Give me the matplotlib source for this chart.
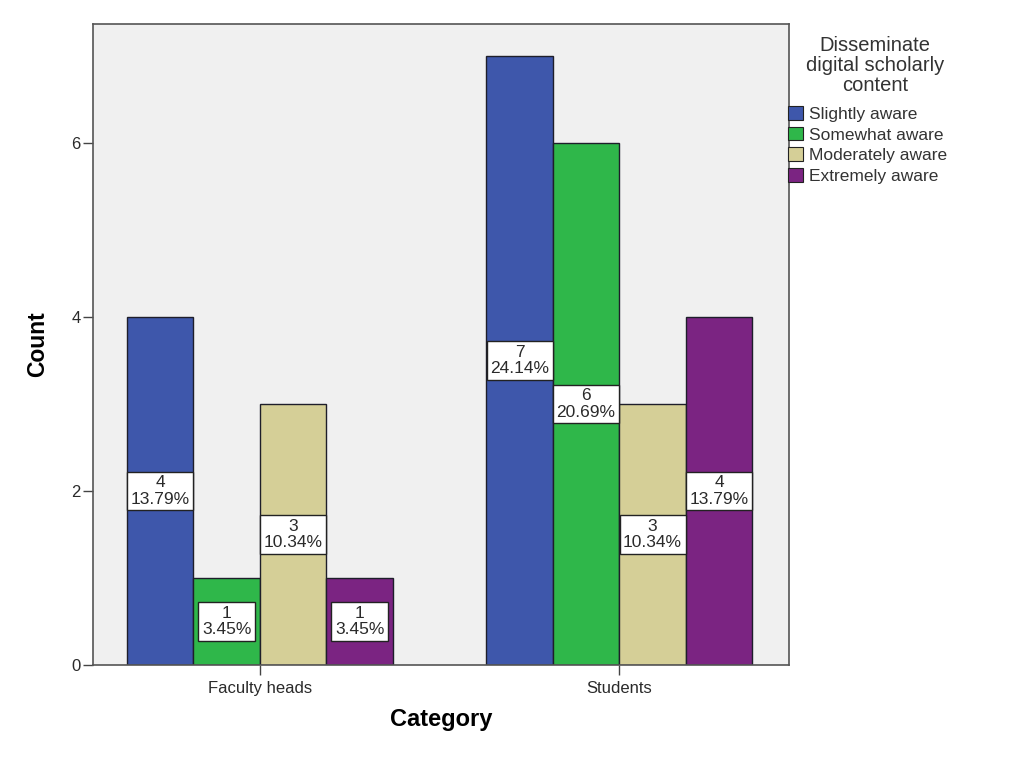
import matplotlib
matplotlib.use("Agg")
import matplotlib.pyplot as plt
from matplotlib.patches import Patch
import numpy as np

plt.rcParams['font.family'] = ['Liberation Sans', 'DejaVu Sans']

categories = ["Faculty heads", "Students"]
levels = ["Slightly aware", "Somewhat aware", "Moderately aware", "Extremely aware"]
counts = {
    "Slightly aware": [4, 7],
    "Somewhat aware": [1, 6],
    "Moderately aware": [3, 3],
    "Extremely aware": [1, 4],
}
colors = ["#3E57AB", "#2FB74A", "#D5CF97", "#7B2482"]
legend_title = "Disseminate\ndigital scholarly\ncontent"

total = sum(sum(v) for v in counts.values())

W, H = 1033, 765
fig = plt.figure(figsize=(W / 100, H / 100), dpi=100)
ax = fig.add_axes([93 / W, 1 - 665 / H, (789 - 93) / W, (665 - 24) / H])
ax.set_facecolor("#F0F0F0")

x = np.arange(len(categories))
width = 0.185
offsets = (np.arange(len(levels)) - (len(levels) - 1) / 2) * width

for i, lev in enumerate(levels):
    vals = counts[lev]
    ax.bar(x + offsets[i], vals, width=width, color=colors[i],
           edgecolor="#1E1E2A", linewidth=1.0, zorder=2)
    for xi, v in zip(x + offsets[i], vals):
        ax.text(xi, v / 2, f"{v}\n{v / total * 100:.2f}%", ha="center", va="center",
                fontsize=12.5, color="#2A2A2A", linespacing=1.12, zorder=3,
                bbox=dict(boxstyle="square,pad=0.2", facecolor="white",
                          edgecolor="#222222", linewidth=1.0))

ax.set_xlim(-0.464, 1.472)
ax.set_ylim(0, 7.37)
ax.set_yticks([0, 2, 4, 6])
ax.set_xticks(x)
ax.set_xticklabels(categories)
ax.tick_params(axis="both", labelsize=12, colors="#444444", direction="out", length=7.5, width=1)
ax.tick_params(axis="x", labelcolor="#2A2A2A", pad=4)
ax.tick_params(axis="y", labelcolor="#2A2A2A", pad=1.5)
for sp in ax.spines.values():
    sp.set_color("#555555")
    sp.set_linewidth(1.2)

ax.set_ylabel("Count", fontsize=16.5, fontweight="bold", labelpad=16)
ax.set_xlabel("Category", fontsize=17, fontweight="bold", labelpad=9)

# legend heading, centred above the colour keys
fig.text(875 / W, 1 - 36 / H, legend_title, ha="center", va="top", fontsize=14.5,
         color="#333333", linespacing=1.08, multialignment="center")

handles = [Patch(facecolor=c, edgecolor="#222222", linewidth=0.8) for c in colors]
leg = fig.legend(handles, levels, loc="upper left", bbox_to_anchor=(788 / W, 1 - 106 / H),
                 frameon=False, fontsize=12.5,
                 handlelength=0.85, handleheight=0.85, handletextpad=0.35,
                 labelspacing=0.27, borderpad=0.0, borderaxespad=0.0)
for t in leg.get_texts():
    t.set_color("#333333")

fig.savefig("out.png", dpi=100, facecolor="white")
